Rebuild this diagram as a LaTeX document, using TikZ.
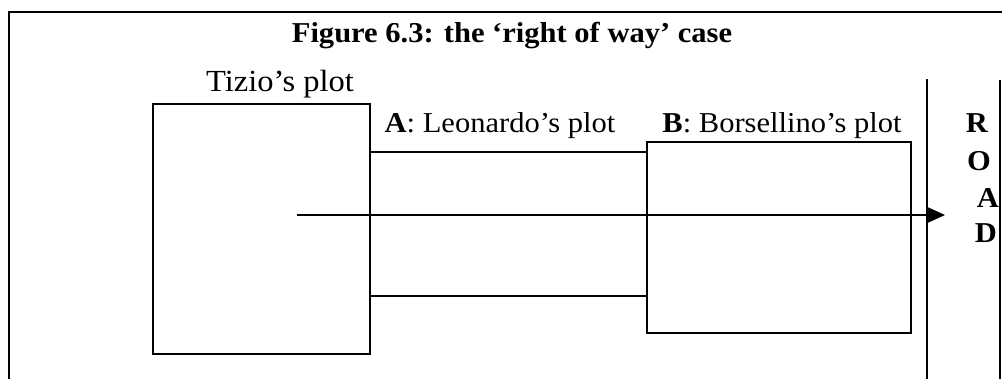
\documentclass[tikz,border=0pt]{standalone}
\usepackage{fontspec}
\setmainfont[FakeStretch=1.06]{Liberation Serif}
\usetikzlibrary{arrows.meta}
\begin{document}
\begin{tikzpicture}[x=0.75pt,y=-0.75pt,
  frame/.style={line width=1.5pt},
  plot/.style={draw,line width=0.8pt,minimum width=#1},
  label/.style={anchor=base,inner sep=0pt,font=\fontsize{21.6pt}{25pt}\selectfont},
  roadletter/.style={label,font=\fontsize{21.6pt}{25pt}\selectfont\bfseries},
  passage/.style={line width=1.25pt,-{Triangle[length=12.75pt,width=11.25pt]}}]
\useasboundingbox (0,0) rectangle (1002,379);

% outer frame (top and left edges)
\draw[frame] (8.5,379) -- (8.5,12) -- (1002,12);

% title
\node[label,font=\fontsize{21.6pt}{25pt}\selectfont\bfseries] (title) at (512,42)
  {Figure 6.3: the ‘right of way’ case};

% plots
\node[plot=162.75pt,minimum height=187.5pt] (tizio) at (261.5,229) {};
\node[plot=198pt,minimum height=143.25pt] (borsellino) at (779,237.5) {};
\coordinate (atop) at (0,152);
\coordinate (abot) at (0,296);
\draw[line width=0.8pt] (tizio.east |- atop) -- (borsellino.west |- atop);
\draw[line width=0.9pt] (tizio.east |- abot) -- (borsellino.west |- abot);

% labels
\node[label,font=\fontsize{23pt}{26pt}\selectfont] (tiziolbl) at (280,91) {Tizio’s plot};
\node[label] (albl) at (500,132) {\textbf{A}: Leonardo’s plot};
\node[label] (blbl) at (782,132) {\textbf{B}: Borsellino’s plot};

% road
\draw[line width=0.9pt] (927,79) -- (927,379);
\draw[line width=0.9pt] (1000,80) -- (1000,379);
\node[roadletter] (r) at (977,132) {R};
\node[roadletter] (o) at (979,170) {O};
\node[roadletter] (a) at (988,207) {A};
\node[roadletter] (d) at (986,242) {D};

% right of way
\coordinate (start) at (297,215);
\coordinate (tip) at (945,215);
\draw[passage] (start) -- (tip);
\end{tikzpicture}
\end{document}
